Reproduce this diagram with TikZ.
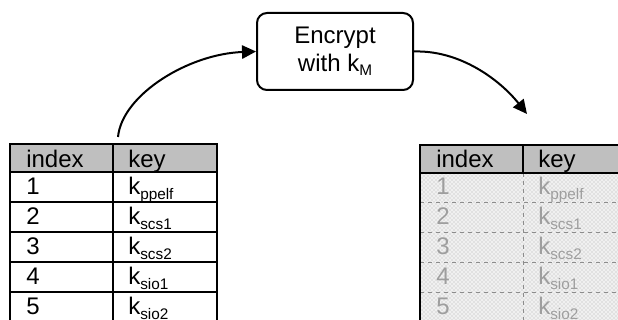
\documentclass[tikz,border=0pt]{standalone}
\usepackage{fontspec}
\setmainfont{Liberation Sans}
\usetikzlibrary{arrows.meta,patterns}

\newcommand{\keyname}[1]{k\raisebox{-0.32ex}{\fontsize{11.5}{12}\selectfont #1}}

\tikzset{
  txt/.style={anchor=base west, inner sep=0pt, font=\fontsize{18}{21}\selectfont},
  faded/.style={txt, text=black!38},
  hdr/.style={fill=black!25, draw=black, line width=1.5pt},
  grid/.style={line width=1.5pt},
  softgrid/.style={draw=black!45, dashed, line width=0.6pt},
  flow/.style={line width=1.5pt, -{Triangle[length=10.5pt,width=10pt]}},
  procbox/.style={draw, line width=1.5pt, rounded corners=7.5pt, minimum width=117pt,
    minimum height=57.75pt, align=center, inner sep=0pt, font=\fontsize{18}{21}\selectfont}
}

\begin{document}
\begin{tikzpicture}[x=0.75pt, y=-0.75pt]
    \clip (0,0) rectangle (618,320);

    % Plain key table
    \filldraw[hdr] (10,144) rectangle (217,172);
    \draw[grid] (10,172) rectangle (217,330);
    \draw[grid] (113,144) -- (113,330);
    \draw[grid] (10,202) -- (217,202);
    \draw[grid] (10,232) -- (217,232);
    \draw[grid] (10,262) -- (217,262);
    \draw[grid] (10,292) -- (217,292);
    \node[txt] (li0) at (26,168) {index};
    \node[txt] (lk0) at (128,168) {key};
    \node[txt] (li1) at (26,195) {1};
    \node[txt] (lk1) at (128,195) {\keyname{ppelf}};
    \node[txt] (li2) at (26,225) {2};
    \node[txt] (lk2) at (128,225) {\keyname{scs1}};
    \node[txt] (li3) at (26,255) {3};
    \node[txt] (lk3) at (128,255) {\keyname{scs2}};
    \node[txt] (li4) at (26,285) {4};
    \node[txt] (lk4) at (128,285) {\keyname{sio1}};
    \node[txt] (li5) at (26,315) {5};
    \node[txt] (lk5) at (128,315) {\keyname{sio2}};

    % Encryption step
    \node[procbox] (enc) at (335,51.5) {Encrypt\\with \keyname{M}};

    % Encrypted key table
    \fill[black!6] (420,173) rectangle (640,330);
    \fill[pattern=crosshatch dots, pattern color=black!30] (420,173) rectangle (640,330);
    \draw[softgrid] (420,202) -- (640,202);
    \draw[softgrid] (420,232) -- (640,232);
    \draw[softgrid] (420,262) -- (640,262);
    \draw[softgrid] (420,292) -- (640,292);
    \draw[softgrid] (523,173) -- (523,330);
    \filldraw[hdr] (420,145) rectangle (640,173);
    \draw[grid] (523,145) -- (523,173);
    \draw[grid] (420,173) -- (420,330);
    \node[txt] (ri0) at (436,168) {index};
    \node[txt] (rk0) at (538,168) {key};
    \node[faded] (ri1) at (436,195) {1};
    \node[faded] (rk1) at (538,195) {\keyname{ppelf}};
    \node[faded] (ri2) at (436,225) {2};
    \node[faded] (rk2) at (538,225) {\keyname{scs1}};
    \node[faded] (ri3) at (436,255) {3};
    \node[faded] (rk3) at (538,255) {\keyname{scs2}};
    \node[faded] (ri4) at (436,285) {4};
    \node[faded] (rk4) at (538,285) {\keyname{sio1}};
    \node[faded] (ri5) at (436,315) {5};
    \node[faded] (rk5) at (538,315) {\keyname{sio2}};

    % Arrows in and out
    \coordinate (src) at (118,137);
    \coordinate (dst) at (527,114);
    \draw[flow] (src) .. controls (122,95) and (188,54) .. (enc.west);
    \draw[flow] (enc.east) .. controls (460,50) and (500,80) .. (dst);
\end{tikzpicture}
\end{document}
